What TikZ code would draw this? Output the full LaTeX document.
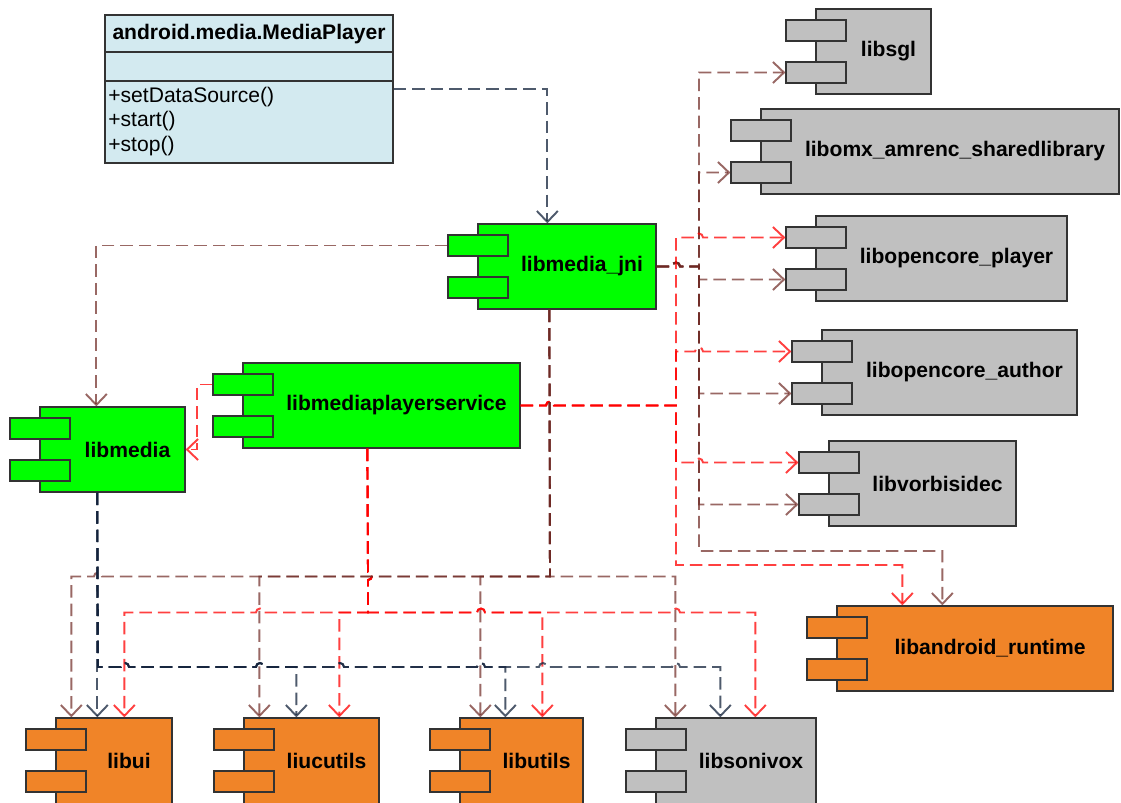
\documentclass[tikz,border=0pt]{standalone}
\usepackage{fontspec}
\setmainfont{Liberation Sans}
\usetikzlibrary{arrows.meta,calc,fit}

\definecolor{compgreen}{HTML}{00FF00}
\definecolor{comporange}{HTML}{F08428}
\definecolor{compgray}{HTML}{C0C0C0}
\definecolor{classblue}{HTML}{D3EAF0}
\definecolor{edgegray}{HTML}{333333}
\definecolor{navyln}{RGB}{20,35,60}
\definecolor{brownln}{RGB}{110,40,35}
\definecolor{redln}{RGB}{255,0,0}

\tikzset{
  compbody/.style={draw=edgegray, line width=0.75pt, inner sep=0pt},
  comptab/.style={draw=edgegray, line width=0.75pt, inner sep=0pt},
  complabel/.style={font=\fontsize{12}{14}\selectfont\bfseries, text=black, inner sep=0pt},
  classtext/.style={font=\fontsize{12}{14}\selectfont, text=black, inner sep=0pt},
  dep/.style={line width=1.1pt, dash pattern=on 0.25cm off 0.12cm,
    -{Straight Barb[length=0.22cm,width=0.42cm]}},
  navydep/.style={dep, draw=navyln, draw opacity=0.75},
  browndep/.style={dep, draw=brownln, draw opacity=0.7},
  reddep/.style={dep, draw=redln, draw opacity=0.75},
}

% component: name, left x, top y, right x, height, label, fill
\newcommand\libcomp[7]{%
  \node[compbody, fill=#7, fit={(#2,#3) (#4,#3+#5)}] (#1) {};
  \node[comptab, fill=#7, fit={(#2-30,#3+11) (#2+30,#3+32)}] (#1-t1) {};
  \node[comptab, fill=#7, fit={(#2-30,#3+53) (#2+30,#3+74)}] (#1-t2) {};
  \node[complabel] (#1-label) at ({(#2+30+#4)/2},{#3+42.5}) {#6};
}

\begin{document}
\begin{tikzpicture}[x=0.02cm, y=-0.02cm]
\useasboundingbox (0,0) rectangle (1121,803);
\fill[white] (0,0) rectangle (1121,803);
\clip (0,0) rectangle (1121,803);

% class box
\node[draw=edgegray, line width=1.1pt, fill=classblue, inner sep=0pt,
      fit={(105,15) (393,163)}] (mp) {};
\draw[edgegray, line width=1.1pt] (mp.west |- 0,52) -- (mp.east |- 0,52);
\draw[edgegray, line width=1.1pt] (mp.west |- 0,81) -- (mp.east |- 0,81);
\node[classtext, font=\fontsize{12}{14}\selectfont\bfseries] (mp-title) at (249,34) {android.media.MediaPlayer};
\node[classtext, anchor=west] (mp-m1) at (108,97) {+setDataSource()};
\node[classtext, anchor=west] (mp-m2) at (108,121.5) {+start()};
\node[classtext, anchor=west] (mp-m3) at (108,146) {+stop()};

% components
\libcomp{jni}{478}{224}{656}{85}{libmedia\_jni}{compgreen}
\libcomp{media}{40}{407}{185}{85}{libmedia}{compgreen}
\libcomp{mps}{243}{363}{520}{85}{libmediaplayerservice}{compgreen}
\libcomp{sgl}{816}{9}{931}{85}{libsgl}{compgray}
\libcomp{omx}{761}{109}{1119}{85}{libomx\_amrenc\_sharedlibrary}{compgray}
\libcomp{player}{816}{216}{1067}{85}{libopencore\_player}{compgray}
\libcomp{author}{822}{330}{1077}{85}{libopencore\_author}{compgray}
\libcomp{vorbis}{829}{441}{1016}{85}{libvorbisidec}{compgray}
\libcomp{art}{837}{606}{1113}{85}{libandroid\_runtime}{comporange}
\libcomp{ui}{56}{718}{172}{90}{libui}{comporange}
\libcomp{cu}{244}{718}{379}{90}{liucutils}{comporange}
\libcomp{utils}{460}{718}{583}{90}{libutils}{comporange}
\libcomp{son}{656}{718}{816}{90}{libsonivox}{compgray}

% MediaPlayer -> libmedia_jni
\draw[navydep] (mp.east) -| ($(jni.north west)+(70,0)$);

% libmedia_jni -> libmedia
\draw[browndep] (jni-t1.west) -| ($(media.north west)+(57,0)$);

% libmediaplayerservice -> libmedia
\draw[reddep] (mps-t1.west) -- ++(-15,0) |- (media.east);

% libmedia_jni -> right-hand libraries
\draw[browndep] (jni.east) -- (672,266.5) arc[start angle=180,end angle=0,radius=0.08cm]
  -- (699,266.5) |- (sgl-t2.west);
\draw[browndep] (jni.east) -- (672,266.5) arc[start angle=180,end angle=0,radius=0.08cm]
  -- (699,266.5) |- (omx-t2.west);
\draw[browndep] (jni.east) -- (672,266.5) arc[start angle=180,end angle=0,radius=0.08cm]
  -- (699,266.5) |- (player-t2.west);
\draw[browndep] (jni.east) -- (672,266.5) arc[start angle=180,end angle=0,radius=0.08cm]
  -- (699,266.5) |- (author-t2.west);
\draw[browndep] (jni.east) -- (672,266.5) arc[start angle=180,end angle=0,radius=0.08cm]
  -- (699,266.5) |- (vorbis-t2.west);
\draw[browndep] (jni.east) -- (672,266.5) arc[start angle=180,end angle=0,radius=0.08cm]
  -- (699,266.5) -- (699,551) -| ($(art.north west)+(106,0)$);

% libmediaplayerservice -> right-hand libraries
\draw[reddep] (mps.east) -- (546,405.5) arc[start angle=180,end angle=0,radius=0.08cm]
  -- (676,405.5) -- (676,237.5) -- (695,237.5) arc[start angle=180,end angle=0,radius=0.08cm]
  -- (player-t1.west);
\draw[reddep] (mps.east) -- (546,405.5) arc[start angle=180,end angle=0,radius=0.08cm]
  -- (676,405.5) -- (676,351.5) -- (695,351.5) arc[start angle=180,end angle=0,radius=0.08cm]
  -- (author-t1.west);
\draw[reddep] (mps.east) -- (546,405.5) arc[start angle=180,end angle=0,radius=0.08cm]
  -- (676,405.5) -- (676,462.5) -- (695,462.5) arc[start angle=180,end angle=0,radius=0.08cm]
  -- (vorbis-t1.west);
\draw[reddep] (mps.east) -- (546,405.5) arc[start angle=180,end angle=0,radius=0.08cm]
  -- (676,405.5) -- (676,565) -| ($(art.north west)+(66,0)$);

% libmediaplayerservice -> bottom libraries
\draw[reddep] ($(mps.south west)+(125,0)$) -- (368,572) arc[start angle=90,end angle=-90,radius=0.08cm]
  -- (368,612.5) -- (264,612.5) arc[start angle=0,end angle=180,radius=0.08cm]
  -| ($(ui.north west)+(69,0)$);
\draw[reddep] ($(mps.south west)+(125,0)$) -- (368,572) arc[start angle=90,end angle=-90,radius=0.08cm]
  -- (368,612.5) -| ($(cu.north west)+(96,0)$);
\draw[reddep] ($(mps.south west)+(125,0)$) -- (368,572) arc[start angle=90,end angle=-90,radius=0.08cm]
  -- (368,612.5) -- (477,612.5) arc[start angle=180,end angle=0,radius=0.08cm]
  -| ($(utils.north west)+(83,0)$);
\draw[reddep] ($(mps.south west)+(125,0)$) -- (368,572) arc[start angle=90,end angle=-90,radius=0.08cm]
  -- (368,612.5) -- (477,612.5) arc[start angle=180,end angle=0,radius=0.08cm]
  -- (672,612.5) arc[start angle=180,end angle=0,radius=0.08cm]
  -| ($(son.north west)+(100,0)$);

% libmedia_jni -> bottom libraries
\draw[browndep] ($(jni.south west)+(72,0)$) -- (550,576.5) -- (102,576.5)
  arc[start angle=0,end angle=180,radius=0.08cm] -| ($(ui.north west)+(16,0)$);
\draw[browndep] ($(jni.south west)+(72,0)$) -- (550,576.5) -| ($(cu.north west)+(16,0)$);
\draw[browndep] ($(jni.south west)+(72,0)$) -- (550,576.5) -| ($(utils.north west)+(21,0)$);
\draw[browndep] ($(jni.south west)+(72,0)$) -- (550,576.5) -| ($(son.north west)+(20,0)$);

% libmedia -> bottom libraries
\draw[navydep] ($(media.south west)+(58,0)$) -- ($(ui.north west)+(42,0)$);
\draw[navydep] ($(media.south west)+(58,0)$) -- (98,667)
  -- (121,667) arc[start angle=180,end angle=0,radius=0.08cm]
  -- (256,667) arc[start angle=180,end angle=0,radius=0.08cm]
  -| ($(cu.north west)+(53,0)$);
\draw[navydep] ($(media.south west)+(58,0)$) -- (98,667)
  -- (121,667) arc[start angle=180,end angle=0,radius=0.08cm]
  -- (256,667) arc[start angle=180,end angle=0,radius=0.08cm]
  -- (336,667) arc[start angle=180,end angle=0,radius=0.08cm]
  -- (477,667) arc[start angle=180,end angle=0,radius=0.08cm]
  -| ($(utils.north west)+(46,0)$);
\draw[navydep] ($(media.south west)+(58,0)$) -- (98,667)
  -- (121,667) arc[start angle=180,end angle=0,radius=0.08cm]
  -- (256,667) arc[start angle=180,end angle=0,radius=0.08cm]
  -- (336,667) arc[start angle=180,end angle=0,radius=0.08cm]
  -- (477,667) arc[start angle=180,end angle=0,radius=0.08cm]
  -- (539,667) arc[start angle=180,end angle=0,radius=0.08cm]
  -- (672,667) arc[start angle=180,end angle=0,radius=0.08cm]
  -| ($(son.north west)+(65,0)$);
\end{tikzpicture}
\end{document}
